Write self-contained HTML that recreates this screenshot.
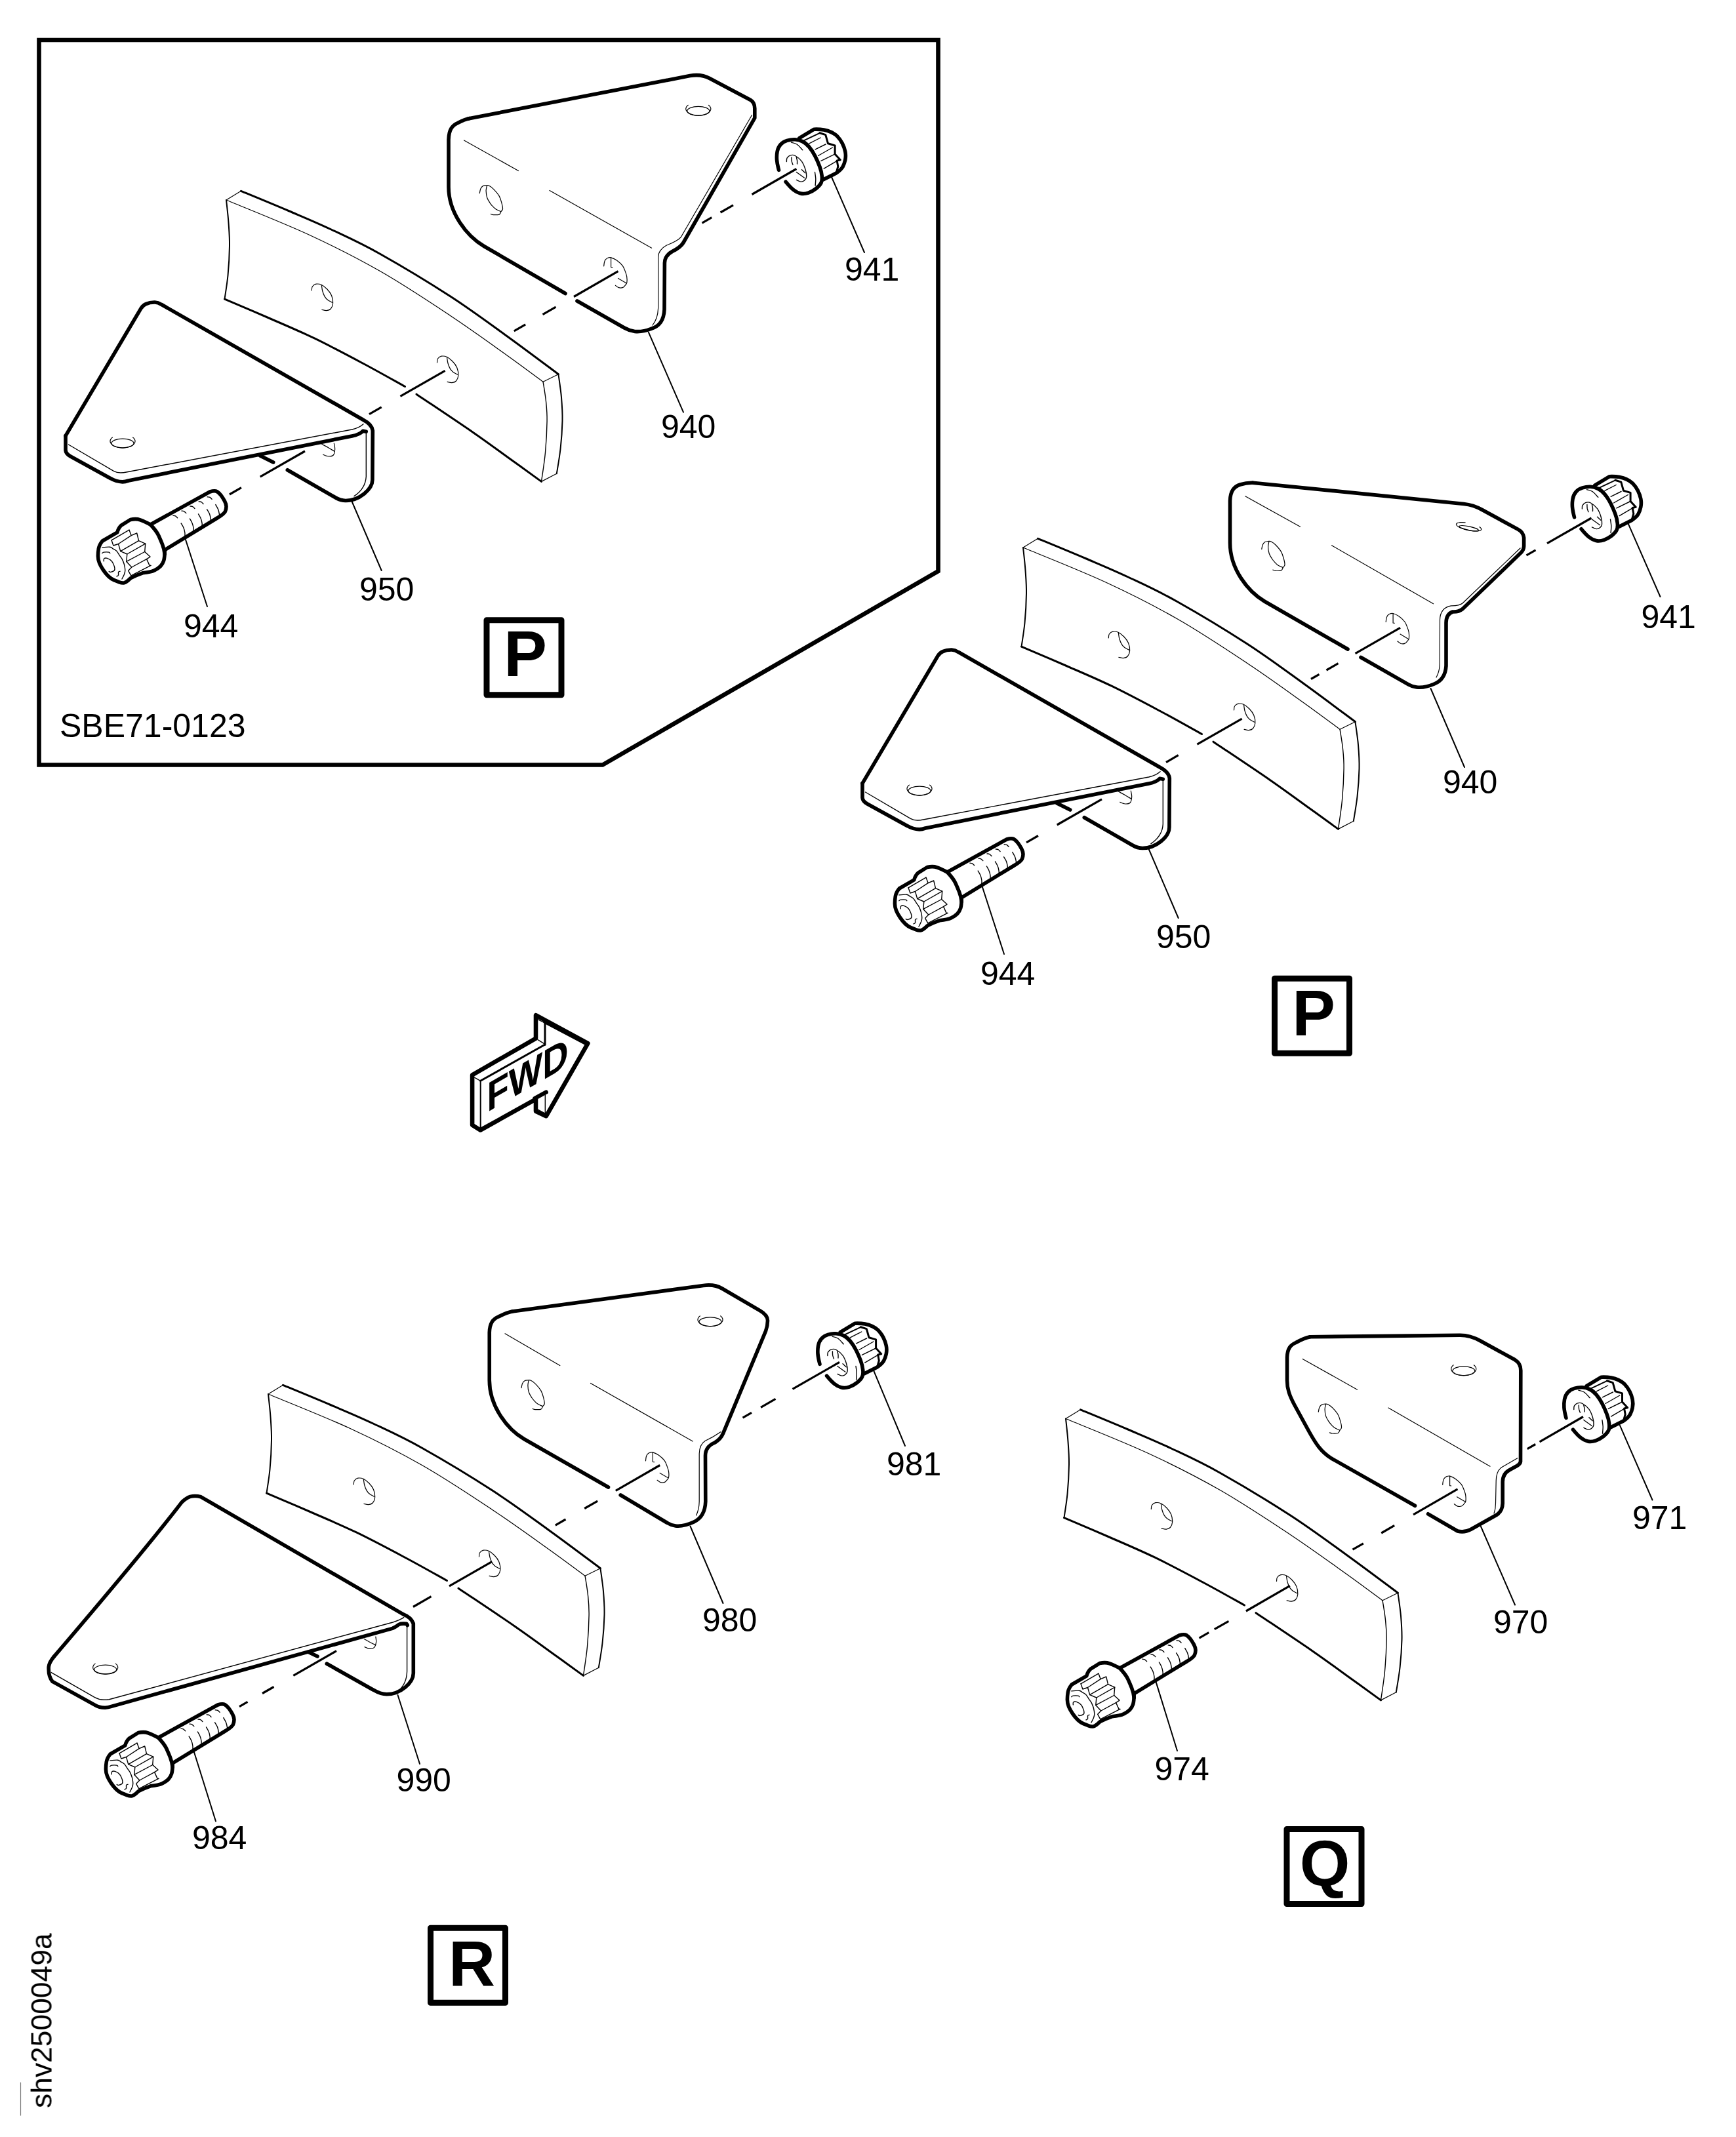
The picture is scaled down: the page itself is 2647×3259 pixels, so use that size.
<!DOCTYPE html>
<html><head><meta charset="utf-8"><title>shv2500049a</title>
<style>
html,body{margin:0;padding:0;background:#fff}
svg{display:block}
svg *{fill:none;stroke:#000;stroke-linecap:round;stroke-linejoin:round}
.k{stroke-width:5.6}
.k2{stroke-width:4.6}
.m{stroke-width:3}
.c{stroke-width:3.2;stroke-linecap:butt}
.l{stroke-width:2}
.t{stroke-width:1.4}
.h{stroke-width:1.2}
.w{fill:#fff;stroke:none}
svg text{fill:#000;stroke:none;font-family:"Liberation Sans",sans-serif}
.n{font-size:50px}
.b{font-size:98.5px;font-weight:bold}
body{position:relative;width:2647px;height:3259px;overflow:hidden}
.vid{position:absolute;left:85.8px;top:3215.3px;font:44.4px/1 "Liberation Sans",sans-serif;color:#000;white-space:nowrap;transform-origin:0 0;transform:rotate(-90deg) translateY(-100%);will-change:transform}
</style></head><body>
<svg width="2647" height="3259" viewBox="0 0 2647 3259">
<defs>
<g id="plate"><path class="m" d="M367.5,291.3C379.6,296.3 417.1,311.7 440,321.5C462.9,331.3 481.7,339 505,350C528.3,361 549.8,370.5 580,387.5C610.2,404.5 654.3,431 686.4,451.8C718.5,472.6 745.3,492.7 772.8,512.5C800.3,532.3 838.3,561 851.4,570.7"/><path class="h" d="M345,305C365.8,313.8 430.8,339.4 470,357.5C509.2,375.6 543.9,393.1 580,413.8C616.1,434.4 654.3,459.9 686.4,481.2C718.5,502.5 749.2,524.9 772.8,541.7C796.4,558.6 818.9,575.5 828.1,582.3"/><path class="l" d="M345,305C345.6,310.8 347.7,328.3 348.5,340C349.3,351.7 350.2,361.7 350,375C349.8,388.3 348.8,406.5 347.5,420C346.2,433.5 343.3,450.2 342.5,456.2"/><path class="m" d="M342.5,456.2C353.8,461 387.1,475 410,485C432.9,495 455.8,504.6 480,516.2C504.2,527.9 532.1,542.8 555,555C577.9,567.2 607.1,583.8 617.5,589.5"/><path class="m" d="M635,601.2C649.3,610.9 696.8,642.5 721,659.2C745.2,675.9 762.6,689 780,701.5C797.4,714 817.9,728.9 825.5,734.4"/><path class="h" d="M345,305 L367.5,291.3"/><path class="h" d="M828.1,582.3 L851.4,570.7"/><path class="h" d="M825.5,734.4 L848.8,722.3"/><path class="t" d="M828.1,582.3C828.8,587.2 831.5,602.1 832.5,612C833.5,621.9 834.3,628.9 834.1,641.9C833.9,654.9 832.9,674.6 831.5,690C830.1,705.4 826.5,727 825.5,734.4"/><path class="l" d="M851.4,570.7C852.2,576.6 855,594.1 856,606C857,617.9 857.8,628.7 857.5,641.9C857.2,655.1 856,671.6 854.5,685C853,698.4 849.8,716.1 848.8,722.3"/><path class="h" d="M666.5,553C666.7,552 666.4,548.6 667.5,547C668.6,545.4 670.7,543.7 673,543.2C675.3,542.8 678.4,543 681.2,544.3C684,545.6 687.4,548.3 690,551C692.6,553.7 695.3,557.1 696.8,560.7C698.3,564.3 699,569.4 698.8,572.8C698.6,576.2 697.1,579.2 695.5,581C693.9,582.8 691.2,583.4 689,583.6C686.8,583.8 683.2,582.5 682.1,582.3"/><path class="h" d="M681.5,545C681.8,546.5 682.2,551.1 683,554C683.8,556.9 685.1,560.1 686.4,562.4C687.7,564.6 689.1,566 691,567.5C692.9,569 696.5,570.5 697.6,571.1"/><path class="h" d="M475.3,443C475.5,442 475.2,438.6 476.3,437C477.4,435.4 479.5,433.7 481.8,433.2C484.1,432.8 487.2,433 490,434.3C492.8,435.6 496.2,438.3 498.8,441C501.4,443.7 504.1,447.1 505.6,450.7C507.1,454.3 507.8,459.4 507.6,462.8C507.4,466.2 505.9,469.2 504.3,471C502.7,472.8 500,473.4 497.8,473.6C495.6,473.8 492.1,472.5 490.9,472.3"/><path class="h" d="M490.3,435C490.6,436.5 491,441.1 491.8,444C492.6,446.9 493.9,450.1 495.2,452.4C496.5,454.6 497.9,456.1 499.8,457.5C501.7,458.9 505.3,460.5 506.4,461.1"/></g>
<g id="bolt"><path class="w" d="M89.4,70L180,20Q187.5,17.5 190.9,19.7Q194.4,21.9 197.2,25.6Q200,29.4 202.5,34.1Q205,38.8 205,42.5Q205,46.2 203.4,50Q201.9,53.8 191.2,60L111.2,108.8Q111.2,120 109.7,125Q108.1,130 104.7,133.4Q101.2,136.9 95.6,139.7Q90,142.5 77.5,143.8Q68.1,146.9 58.8,151.9Q52.5,158.1 49.4,158.8Q46.2,159.4 41.9,157.8Q37.5,156.2 33.8,154.7Q30,153.1 25.6,149.1Q21.2,145 17.5,139.4Q13.8,133.8 11.6,128.8Q9.4,123.8 9.4,118.1Q9.4,112.5 10.3,106.9Q11.2,101.2 16.2,95L38.8,81.9Q40.6,75 45,71.2L58.8,62.5Q67.5,60.6 73.8,62.8Q80,65 89.4,70Z"/><path class="k" d="M89.4,70L180,20Q187.5,17.5 190.9,19.7Q194.4,21.9 197.2,25.6Q200,29.4 202.5,34.1Q205,38.8 205,42.5Q205,46.2 203.4,50Q201.9,53.8 191.2,60L111.2,108.8Q111.2,120 109.7,125Q108.1,130 104.7,133.4Q101.2,136.9 95.6,139.7Q90,142.5 77.5,143.8Q68.1,146.9 58.8,151.9Q52.5,158.1 49.4,158.8Q46.2,159.4 41.9,157.8Q37.5,156.2 33.8,154.7Q30,153.1 25.6,149.1Q21.2,145 17.5,139.4Q13.8,133.8 11.6,128.8Q9.4,123.8 9.4,118.1Q9.4,112.5 10.3,106.9Q11.2,101.2 16.2,95L38.8,81.9Q40.6,75 45,71.2L58.8,62.5Q67.5,60.6 73.8,62.8Q80,65 89.4,70Z"/><path class="k" d="M89.4,70Q98.8,80 101.9,86.9Q105,93.8 107.5,100Q110,106.2 111.2,115"/><path class="t" d="M15.8,104.9C17.7,104.7 24.8,103.9 27.5,104.2C30.2,104.5 30.5,105.7 32.2,106.8C34,107.8 36.2,108.7 38,110.6C39.7,112.5 41.6,116.2 43,118.2C44.4,120.2 45.1,120.5 46.2,122.6C47.2,124.7 48.6,128 49.4,130.8C50.1,133.7 50.8,137.2 50.8,139.7C50.8,142.2 50.2,143.8 49.4,146C48.5,148.3 46.5,151.9 45.9,153"/><path class="t" d="M15.8,113.7C16.2,113.5 16.6,112.4 18.3,112.1C20,111.9 24.3,111.9 25.9,112.1C27.5,112.4 27.5,113.5 27.8,113.7"/><path class="t" d="M18.3,125.8C18.4,125.1 17.8,122.7 18.6,122C19.5,121.2 21.4,120.7 23.4,121.3C25.3,122 28.6,123.8 30.3,125.8C32.1,127.8 33.4,131 34.2,133.4C34.9,135.7 35.4,138.2 34.6,139.7C33.7,141.2 30.5,142.1 29.1,142.4C27.7,142.7 26.7,141.6 26.2,141.5"/><path class="t" d="M43,141.3C42.6,141.5 41,141.4 40.6,142.4C40.2,143.4 40.9,146.2 40.5,147.3C40,148.4 38.4,148.6 38,148.9"/><path class="t" d="M30,93.8L32.9,102L40.5,99.5L43.7,110.6L53.8,115L52.8,126.4L60.8,135L55.7,140.3L59.8,147.9"/><path class="t" d="M57,78.2L60.1,86.6L68.7,83L71.5,94.7L81.7,99.2L80.7,111.5L89,119.1L83.6,122.6L88,132.4L89.9,132.4"/><path class="t" d="M30,93.8L57,78.2"/><path class="t" d="M40.5,99.5L60.1,86.6"/><path class="t" d="M43.7,110.6L71.5,94.7"/><path class="t" d="M53.8,115L81.7,99.2"/><path class="t" d="M52.8,126.4L80.7,111.5"/><path class="t" d="M60.8,135L83.6,122.6"/><path class="t" d="M59.8,147.9L89.9,132.4"/><path class="t" d="M123.8,56.2C124.4,56.4 126.4,56.3 127.5,56.9C128.6,57.5 130.1,59.3 130.6,59.8"/><path class="t" d="M136.2,68.1C136.9,69.3 139.1,72.6 140,75C140.9,77.4 141.6,80.4 141.9,82.5C142.2,84.6 141.9,86.7 141.9,87.5"/><path class="t" d="M136.9,49.1C137.5,49.2 139.5,49.2 140.6,49.8C141.8,50.3 143.2,52.1 143.8,52.6"/><path class="t" d="M149.4,61C150,62.1 152.2,65.5 153.1,67.9C154.1,70.3 154.7,73.3 155,75.4C155.3,77.5 155,79.5 155,80.4"/><path class="t" d="M150,42C150.6,42.1 152.6,42 153.8,42.6C154.9,43.2 156.4,45 156.9,45.5"/><path class="t" d="M162.5,53.9C163.1,55 165.3,58.4 166.2,60.8C167.2,63.1 167.8,66.2 168.1,68.2C168.4,70.3 168.1,72.4 168.1,73.2"/><path class="t" d="M163.1,34.9C163.8,35 165.7,34.9 166.9,35.5C168,36.1 169.5,37.9 170,38.4"/><path class="t" d="M175.6,46.8C176.2,47.9 178.4,51.2 179.4,53.6C180.3,56 180.9,59 181.2,61.1C181.6,63.2 181.2,65.3 181.2,66.1"/><path class="t" d="M176.2,27.8C176.9,27.9 178.9,27.8 180,28.4C181.1,29 182.6,30.8 183.1,31.2"/><path class="t" d="M188.8,39.6C189.4,40.8 191.6,44.1 192.5,46.5C193.4,48.9 194.1,51.9 194.4,54C194.7,56.1 194.4,58.2 194.4,59"/></g>
<g id="nut"><path class="w" d="M37.5,89.4L34,67.5L43.8,46.2L68.1,41.9L91.2,27.2L112.5,29.4L131.2,42.5L140,67.5L132.5,88.8L105.6,103.8L100,113.1L76.2,126.2L55,115.6L37.5,89.4Z"/><path class="k" d="M68.8,40.6L91.2,27.2Q100,26.9 106.2,28.1Q112.5,29.4 117.5,31.6Q122.5,33.8 126.9,38.1Q131.2,42.5 134.4,48.8Q137.5,55 138.8,61.2Q140,67.5 138.8,73.8Q137.5,80 135,84.4Q132.5,88.8 125,94L105.6,103.8"/><path class="k" d="M37.5,89.4Q35,80 34.5,73.8Q34,67.5 35.1,61.2Q36.2,55 40,50.6Q43.8,46.2 50,44.4Q56.2,42.5 62.2,42.8Q68.1,43.1 73.4,45.6Q78.8,48.1 83.8,54.1Q88.8,60 92.8,68.1Q96.9,76.2 99.7,83.8Q102.5,91.2 103.2,98.1Q104,105 102,109.1Q100,113.1 94.4,117.5Q88.8,121.9 82.5,124.1Q76.2,126.2 70.6,125Q65,123.8 60,119.7Q55,115.6 48.1,107.2"/><path class="l" d="M75.6,44.4L100,32.8"/><path class="m" d="M100,32.8L108.8,35.6L112.5,48.8L123.1,51.9L123.1,65L131.2,73.8L126.2,75L127.8,84L125,93.8"/><path class="t" d="M83.8,48.8L101.2,40"/><path class="t" d="M93.1,57.8L109,50"/><path class="t" d="M97.5,67.5L119.4,55"/><path class="t" d="M101.9,75.4L123.1,65"/><path class="t" d="M106.2,87.1L126.2,75.4"/><path class="t" d="M56.5,47.2C57.9,47.7 62.1,48.1 65,50C67.9,51.9 72.3,57.3 73.8,58.8"/><path class="t" d="M92.5,92.5C92.7,94.2 93.6,99.1 93.8,102.5C93.9,105.9 93.2,111.4 93.1,113.1"/><path class="t" d="M49.4,76.5C49.5,75.6 49.1,72.9 50,71.2C50.9,69.6 52.9,67.5 55,66.9C57.1,66.2 59.6,65.9 62.5,67.5C65.4,69.1 69.9,72.7 72.5,76.2C75.1,79.8 76.9,84.8 78.1,88.8C79.3,92.7 79.9,97.2 79.6,100C79.4,102.8 77.9,104.1 76.5,105.2C75.1,106.4 73.3,107.3 71.2,107.1C69.2,107 65.5,104.8 64.4,104.4"/><path class="t" d="M56.9,70C56.9,71 56.9,74.4 57.2,76.2C57.6,78.1 58.7,80.4 59,81.2"/><path class="t" d="M64.4,70C64.6,70.8 65.3,73.3 65.5,75C65.7,76.7 65.5,79.2 65.5,80"/><path class="t" d="M72.5,88.8L77.8,93.8"/><path class="t" d="M64.4,92.5L76.5,101.2"/></g>
<g id="b950"><path class="w" d="M100,664.6L217,467L236.2,461L568.3,653.3L568.3,730L550,755L526.7,761.7L396.7,695L186.8,734.9L100,690L100,664.6Z"/><path class="h" d="M490.7,677.3C492.3,678.2 497.4,680.8 500.7,682.7C503.9,684.5 508.4,687.4 510,688.3"/><path class="h" d="M492.7,693.3C494,693.8 498.1,695.9 500.7,696C503.3,696.1 506.7,695.8 508.3,694C510,692.2 510.5,688 510.7,685C510.8,682 509.6,677.5 509.3,676"/><path class="k" d="M100,664.6L215.2,469.9Q218,465.5 222.5,463.6Q228.5,460.8 236.2,461Q241,461.2 246,464.3L553.3,640Q567.3,647.3 568.3,656.7L567.9,731.8C567.9,746 548,763.5 527,763.5C521,763.5 516,761.5 511.8,759L438.3,716.7"/><path class="k" d="M416.7,705L396.7,695"/><path class="k" d="M100,664.6L100,686.5Q100.3,692 107.5,696L168.8,729.7Q177,734.6 186.8,734.9Q191,734.7 196,733L536.7,665Q548.3,662.7 553.3,657.3L558.3,658.3"/><path class="t" d="M104.5,678L173.3,718.4Q178,721 184,721Q188.5,721 192.8,720L536.7,655Q547.3,652.7 554,646.7"/><path class="t" d="M558.3,658.3L558.3,726.7Q557.3,745 540,756.7"/><path class="h" d="M202.6,667.1C202.8,667.3 203.8,668.1 204.3,668.6C204.8,669.2 205.1,669.8 205.4,670.4C205.7,670.9 205.9,671.5 206,672.1C206,672.7 206,673.4 205.9,674C205.7,674.6 205.5,675.2 205.2,675.7C204.8,676.3 204.4,676.9 203.9,677.4C203.3,678 202.7,678.5 202,678.9C201.3,679.4 200.5,679.9 199.6,680.3C198.8,680.7 197.8,681 196.9,681.3C195.9,681.7 194.8,681.9 193.8,682.1C192.7,682.4 191.6,682.5 190.4,682.6C189.3,682.7 188.1,682.8 187,682.8C185.9,682.8 184.7,682.7 183.6,682.6C182.4,682.5 181.3,682.4 180.2,682.1C179.2,681.9 178.1,681.7 177.1,681.3C176.2,681 175.2,680.7 174.4,680.3C173.5,679.9 172.7,679.4 172,678.9C171.3,678.5 170.7,678 170.1,677.4C169.6,676.9 169.2,676.3 168.8,675.7C168.5,675.2 168.3,674.6 168.1,674C168,673.4 168,672.7 168,672.1C168.1,671.5 168.3,670.9 168.6,670.4C168.9,669.8 169.2,669.2 169.7,668.6C170.2,668.1 171.2,667.3 171.4,667.1"/><ellipse class="h" cx="187" cy="676.1" rx="17" ry="7"/></g>
</defs>
<g id="insetP">
<use href="#plate"/>
<path class="w" d="M714,181L1052,115.6Q1068.6,112.4 1082,119.5L1143.9,152.2Q1151,156.5 1150.8,166L1150.8,179.9L1042,370Q1038,377 1025,383.5Q1013.4,390 1013.4,401L1013,472Q1012,496 992.5,501.5Q980,506.5 968,505.5Q960,504.5 952,500L880,459L732,372L684,290L684,210L714,181Z"/><path class="k" d="M714,181L1052,115.6Q1068.6,112.4 1082,119.5L1143.9,152.2Q1151,156.5 1150.8,166L1150.8,179.9L1042,370Q1038,377 1025,383.5Q1013.4,390 1013.4,401L1013,472Q1012,496 992.5,501.5Q980,506.5 968,505.5Q960,504.5 952,500L880,459"/><path class="k" d="M862,447.5 L738,375.5 C712,360 684,325 684,285 L684,213 C684.5,197 690,191 698,187.5 C705,184 709,182 716,180.6"/><path class="h" d="M1146.5,175.5L1038.5,361.3Q1034,367 1016,374.3Q1004,381 1003.6,392L1003.6,470Q1003,486 995,496"/><path class="h" d="M707.5,214 L790.5,260.5"/><path class="h" d="M838,290.5 L993.6,378.2"/><path class="h" d="M1080.4,160.3C1080.6,160.5 1081.6,161.3 1082.1,161.8C1082.6,162.4 1082.9,163 1083.2,163.6C1083.5,164.1 1083.7,164.7 1083.8,165.3C1083.8,165.9 1083.8,166.6 1083.7,167.2C1083.5,167.8 1083.3,168.4 1083,168.9C1082.6,169.5 1082.2,170.1 1081.7,170.6C1081.1,171.2 1080.5,171.7 1079.8,172.1C1079.1,172.6 1078.3,173.1 1077.4,173.5C1076.6,173.9 1075.6,174.2 1074.7,174.5C1073.7,174.9 1072.6,175.1 1071.6,175.3C1070.5,175.6 1069.4,175.7 1068.2,175.8C1067.1,175.9 1065.9,176 1064.8,176C1063.7,176 1062.5,175.9 1061.4,175.8C1060.2,175.7 1059.1,175.6 1058,175.3C1057,175.1 1055.9,174.9 1054.9,174.5C1054,174.2 1053,173.9 1052.2,173.5C1051.3,173.1 1050.5,172.6 1049.8,172.1C1049.1,171.7 1048.5,171.2 1047.9,170.6C1047.4,170.1 1047,169.5 1046.6,168.9C1046.3,168.4 1046.1,167.8 1045.9,167.2C1045.8,166.6 1045.8,165.9 1045.8,165.3C1045.9,164.7 1046.1,164.1 1046.4,163.6C1046.7,163 1047,162.4 1047.5,161.8C1048,161.3 1049,160.5 1049.2,160.3"/><ellipse class="h" cx="1064.8" cy="169.3" rx="17" ry="7"/><path class="h" d="M731.3,294.7C731.5,293.6 732,289.8 732.8,288C733.6,286.2 734.8,284.7 736.2,283.8C737.6,282.9 739.4,282.9 741,282.8C742.6,282.7 743.8,282.3 745.8,283.3C747.8,284.3 750.5,286.2 753,288.8C755.5,291.4 759.1,295.4 761.1,298.9C763.1,302.4 764.1,306.5 765,309.8C765.9,313.1 766.7,316.5 766.5,318.6C766.3,320.8 764.8,321.3 763.9,322.7C763,324.1 763,326.3 761.1,327.1C759.2,327.9 754.6,327.7 752.5,327.6C750.4,327.5 749.1,326.6 748.4,326.4"/><path class="h" d="M742.4,283.3C742.2,284.6 741,288.1 741.1,291.1C741.2,294.1 741.7,298.4 742.7,301.5C743.7,304.6 745.9,307.7 747.3,309.8C748.7,311.9 749.5,312.8 751,314.4C752.5,315.9 754,317.7 756.1,319.1C758.2,320.5 762.6,322.1 763.9,322.7"/><path class="h" d="M920.7,405.8C920.8,404.8 921.1,401.6 921.5,400C921.9,398.4 922.4,397 923.3,395.9C924.2,394.8 925.6,393.7 927,393.2C928.4,392.7 929.4,392.2 931.6,392.8C933.8,393.4 937.5,394.9 940.4,397C943.3,399.1 947,402.3 949.2,405.2C951.4,408.1 952.3,411.3 953.4,414.1C954.5,416.9 955.3,419 955.7,421.8C956.1,424.6 956.2,428.6 955.9,430.7C955.6,432.8 954.9,433 953.9,434.3C952.9,435.6 951.5,437.7 949.8,438.4C948.1,439.1 945.4,439.2 943.5,438.7C941.6,438.2 939.2,435.9 938.4,435.3"/><path class="h" d="M931.6,392.8L931.6,407.3L933.7,407.6"/><path class="h" d="M942.5,424.4L954.9,431.7"/>
<use href="#b950"/>
<use href="#nut" transform="translate(1150,170)"/>
<use href="#bolt" transform="translate(140,730)"/>
<path class="c" d="M1146.5,296.5 L1214.4,257.5"/><path class="c" d="M1098.6,324 L1118,312.9"/><path class="c" d="M1070.5,340.2 L1085.2,331.7"/><path class="c" d="M875,452.5 L942.5,413.7"/><path class="c" d="M827.5,479.7 L847.5,468.2"/><path class="c" d="M783.8,504.9 L801.2,494.8"/><path class="c" d="M610.4,604.4 L678.6,565.3"/><path class="c" d="M563,631.7 L581.7,620.9"/><path class="c" d="M396.7,727.2 L465,688"/><path class="c" d="M350,754 L368,743.7"/>
<path class="l" d="M1268,270 L1318,385"/>
<path class="l" d="M989,507 L1042,628.6"/>
<path class="l" d="M536.7,765 L581.7,870"/>
<path class="l" d="M283,823 L316,925"/>
</g>
<g id="mainP">
<use href="#plate" transform="translate(1215,530)"/>
<use href="#b950" transform="translate(1215,530)"/>
<use href="#bolt" transform="translate(1355,1260)"/>
<path class="w" d="M1910,736.2L2232,768.5Q2246.3,769.9 2260,777.5L2314.8,807.4Q2322.5,811.5 2323.6,820L2323.6,833Q2323.4,838 2320,842L2230,928.8Q2224,933.5 2215,933Q2205,936.5 2205,950L2205,1015Q2204,1036 2187,1043Q2172,1049.5 2160,1048Q2153,1047 2147.5,1043.8L2075,1002.5L1922.5,913.8L1880,860L1875.5,762.5L1885,742L1910,736.2Z"/><path class="k" d="M1910,736.2L2232,768.5Q2246.3,769.9 2260,777.5L2314.8,807.4Q2322.5,811.5 2323.6,820L2323.6,833Q2323.4,838 2320,842L2230,928.8Q2224,933.5 2215,933Q2205,936.5 2205,950L2205,1015Q2204,1036 2187,1043Q2172,1049.5 2160,1048Q2153,1047 2147.5,1043.8L2075,1002.5"/><path class="k" d="M2055,990 L1928,917 C1903,902 1875.5,868 1875.5,828 L1875.5,764 C1876,748 1882,742 1891,739 C1898,736.8 1903,736 1910,736.25"/><path class="h" d="M2318,836L2230,920Q2225,924 2212.5,923.8Q2196,927 2195.5,945L2195.3,1012Q2195,1024 2190,1033"/><path class="h" d="M1898.8,756.8 L1982.5,803.2"/><path class="h" d="M2030.5,831.8 L2185.5,920.8"/><g transform="translate(2239.6,803.3) rotate(12)"><path class="h" d="M16,-3.1C16.3,-2.9 17.4,-2.5 17.9,-2.1C18.5,-1.8 18.9,-1.4 19.1,-1.1C19.4,-0.7 19.5,-0.3 19.5,0.1C19.5,0.4 19.3,0.8 19,1.2C18.7,1.5 18.3,1.9 17.8,2.2C17.2,2.6 16.5,2.9 15.7,3.2C14.9,3.5 14,3.8 13,4C12,4.3 10.9,4.5 9.8,4.7C8.6,4.9 7.3,5 6.1,5.1C4.8,5.2 3.5,5.3 2.1,5.4C0.8,5.4 -0.6,5.4 -1.9,5.4C-3.2,5.3 -4.6,5.3 -5.9,5.2C-7.1,5 -8.4,4.9 -9.6,4.7C-10.7,4.5 -11.9,4.3 -12.9,4.1C-13.9,3.8 -14.8,3.5 -15.6,3.2C-16.4,2.9 -17.1,2.6 -17.7,2.3C-18.2,1.9 -18.7,1.6 -19,1.2C-19.3,0.9 -19.5,0.5 -19.5,0.1C-19.5,-0.3 -19.4,-0.6 -19.2,-1C-18.9,-1.4 -18.5,-1.7 -18,-2.1C-17.5,-2.4 -16.8,-2.7 -16.1,-3C-15.3,-3.4 -14.5,-3.6 -13.5,-3.9C-12.5,-4.2 -11.4,-4.4 -10.3,-4.6C-9.2,-4.8 -7.3,-5 -6.7,-5.1"/><ellipse class="h" cx="0.5" cy="2.3" rx="15" ry="2.8"/></g><path class="h" d="M1923.8,837.5C1924,836.3 1924.5,832.6 1925.3,830.8C1926.1,828.9 1927.3,827.4 1928.7,826.5C1930.1,825.7 1931.9,825.6 1933.5,825.5C1935.1,825.5 1936.3,825 1938.3,826C1940.3,827 1943,828.9 1945.5,831.5C1948,834.1 1951.6,838.1 1953.6,841.6C1955.6,845.1 1956.6,849.3 1957.5,852.5C1958.4,855.8 1959.2,859.2 1959,861.4C1958.8,863.5 1957.3,864 1956.4,865.5C1955.5,866.9 1955.5,869 1953.6,869.9C1951.7,870.7 1947.1,870.5 1945,870.4C1942.9,870.2 1941.6,869.4 1940.9,869.1"/><path class="h" d="M1934.9,826C1934.7,827.3 1933.5,830.8 1933.6,833.9C1933.6,836.9 1934.2,841.1 1935.2,844.2C1936.2,847.4 1938.4,850.4 1939.8,852.5C1941.2,854.7 1942,855.6 1943.5,857.1C1945,858.7 1946.4,860.5 1948.6,861.9C1950.8,863.2 1955.1,864.9 1956.4,865.5"/><path class="h" d="M2113.2,948.5C2113.3,947.6 2113.6,944.4 2114,942.8C2114.4,941.1 2114.9,939.8 2115.8,938.6C2116.7,937.5 2118.1,936.5 2119.5,936C2120.9,935.4 2121.9,934.9 2124.1,935.5C2126.3,936.2 2130,937.7 2132.9,939.8C2135.8,941.8 2139.5,945.1 2141.7,948C2143.9,950.8 2144.8,954.1 2145.9,956.9C2147,959.6 2147.8,961.8 2148.2,964.5C2148.6,967.3 2148.7,971.4 2148.4,973.5C2148.1,975.5 2147.4,975.8 2146.4,977C2145.4,978.3 2144,980.4 2142.3,981.1C2140.6,981.9 2137.9,982 2136,981.5C2134.1,980.9 2131.8,978.6 2130.9,978"/><path class="h" d="M2124.1,935.5L2124.1,950L2126.2,950.4"/><path class="h" d="M2135,967.1L2147.4,974.5"/>
<use href="#nut" transform="translate(2363,699.5)"/>
<path class="c" d="M2359,828.7 L2426.5,790"/><path class="c" d="M2327.5,846.8 L2341.5,838.8"/><path class="c" d="M2066.5,996.7 L2135,957.4"/><path class="c" d="M2022.5,1022 L2040.5,1011.7"/><path class="c" d="M1999,1035.5 L2011.5,1028.3"/><path class="c" d="M1825.4,1135.2 L1893.6,1096.1"/><path class="c" d="M1778,1162.5 L1796.7,1151.7"/><path class="c" d="M1611.7,1258 L1680,1218.8"/><path class="c" d="M1565,1284.8 L1583,1274.5"/>
<path class="l" d="M2483,799.4 L2531.5,910"/>
<path class="l" d="M2181.5,1050 L2233,1170"/>
<path class="l" d="M1751.7,1295 L1796.7,1400"/>
<path class="l" d="M1498,1353 L1531,1455"/>
</g>
<g id="asmR">
<use href="#plate" transform="translate(64,1821)"/>
<path class="w" d="M781.2,2000L1072.5,1960.5Q1089.2,1958.2 1101,1965L1159,1998.8Q1170.5,2005.5 1170.5,2014Q1170.5,2022 1167.5,2030L1102.5,2186.2Q1099,2194.5 1090,2200Q1075.5,2206 1075.5,2220L1075.8,2290Q1075,2313 1058,2321Q1042,2328.5 1030,2327Q1023,2326 1017.5,2322.5L946.2,2280L792.5,2191.2L751,2140L746.2,2030L756,2006L781.2,2000Z"/><path class="k" d="M781.2,2000L1072.5,1960.5Q1089.2,1958.2 1101,1965L1159,1998.8Q1170.5,2005.5 1170.5,2014Q1170.5,2022 1167.5,2030L1102.5,2186.2Q1099,2194.5 1090,2200Q1075.5,2206 1075.5,2220L1075.8,2290Q1075,2313 1058,2321Q1042,2328.5 1030,2327Q1023,2326 1017.5,2322.5L946.2,2280"/><path class="k" d="M927.5,2268 L799,2194.5 C774,2180 746.25,2145 746.25,2105 L746.25,2032 C746.8,2017 752,2011.5 760,2008 C768,2004 773,2001.5 781.25,2000"/><path class="h" d="M1098.8,2183.8Q1088,2191.5 1075,2197.5Q1066.5,2203 1066.2,2217L1066.2,2290Q1066,2302 1061.5,2311"/><path class="h" d="M770,2033.8 L853.8,2082.5"/><path class="h" d="M900.5,2109.5 L1056.2,2198"/><path class="h" d="M1098.6,2006.8C1098.8,2007 1099.8,2007.8 1100.3,2008.3C1100.8,2008.9 1101.1,2009.5 1101.4,2010.1C1101.7,2010.6 1101.9,2011.2 1102,2011.8C1102,2012.4 1102,2013.1 1101.9,2013.7C1101.7,2014.3 1101.5,2014.9 1101.2,2015.4C1100.8,2016 1100.4,2016.6 1099.9,2017.1C1099.3,2017.7 1098.7,2018.2 1098,2018.6C1097.3,2019.1 1096.5,2019.6 1095.6,2020C1094.8,2020.4 1093.8,2020.7 1092.9,2021C1091.9,2021.4 1090.8,2021.6 1089.8,2021.8C1088.7,2022.1 1087.6,2022.2 1086.4,2022.3C1085.3,2022.4 1084.1,2022.5 1083,2022.5C1081.9,2022.5 1080.7,2022.4 1079.6,2022.3C1078.4,2022.2 1077.3,2022.1 1076.2,2021.8C1075.2,2021.6 1074.1,2021.4 1073.1,2021C1072.2,2020.7 1071.2,2020.4 1070.4,2020C1069.5,2019.6 1068.7,2019.1 1068,2018.6C1067.3,2018.2 1066.7,2017.7 1066.1,2017.1C1065.6,2016.6 1065.2,2016 1064.8,2015.4C1064.5,2014.9 1064.3,2014.3 1064.1,2013.7C1064,2013.1 1064,2012.4 1064,2011.8C1064.1,2011.2 1064.3,2010.6 1064.6,2010.1C1064.9,2009.5 1065.2,2008.9 1065.7,2008.3C1066.2,2007.8 1067.2,2007 1067.4,2006.8"/><ellipse class="h" cx="1083" cy="2015.8" rx="17" ry="7"/><path class="h" d="M795,2116.7C795.3,2115.6 795.7,2111.8 796.5,2110C797.4,2108.2 798.6,2106.7 800,2105.8C801.3,2104.9 803.1,2104.9 804.8,2104.8C806.4,2104.7 807.5,2104.3 809.5,2105.3C811.5,2106.3 814.2,2108.2 816.8,2110.8C819.3,2113.4 822.9,2117.4 824.9,2120.9C826.9,2124.4 827.9,2128.5 828.8,2131.8C829.6,2135.1 830.4,2138.4 830.2,2140.6C830.1,2142.8 828.5,2143.3 827.6,2144.7C826.8,2146.1 826.8,2148.3 824.9,2149.1C823,2149.9 818.4,2149.7 816.2,2149.6C814.1,2149.5 812.8,2148.6 812.1,2148.4"/><path class="h" d="M806.1,2105.3C805.9,2106.6 804.8,2110.1 804.9,2113.1C804.9,2116.1 805.4,2120.4 806.5,2123.5C807.5,2126.6 809.7,2129.7 811,2131.8C812.4,2134 813.3,2134.9 814.8,2136.4C816.2,2137.9 817.7,2139.7 819.9,2141.1C822,2142.5 826.4,2144.1 827.6,2144.7"/><path class="h" d="M984.5,2227.8C984.6,2226.8 984.8,2223.7 985.2,2222C985.7,2220.3 986.1,2219 987,2217.9C988,2216.8 989.4,2215.7 990.8,2215.2C992.1,2214.7 993.1,2214.2 995.4,2214.8C997.6,2215.4 1001.2,2216.9 1004.1,2219C1007.1,2221.1 1010.8,2224.3 1013,2227.2C1015.1,2230 1016.1,2233.3 1017.1,2236.1C1018.2,2238.9 1019,2241 1019.5,2243.8C1019.9,2246.6 1020,2250.6 1019.6,2252.7C1019.3,2254.8 1018.7,2255 1017.6,2256.3C1016.6,2257.6 1015.3,2259.7 1013.5,2260.4C1011.8,2261.1 1009.1,2261.2 1007.2,2260.7C1005.4,2260.2 1003,2257.9 1002.1,2257.3"/><path class="h" d="M995.4,2214.8L995.4,2229.3L997.5,2229.6"/><path class="h" d="M1006.2,2246.4L1018.6,2253.7"/>
<path class="w" d="M297.4,2281.8L632.2,2474.3L632.2,2551.6L612.2,2581.5L591.1,2585L469.9,2520L162.4,2606.1L73.9,2556.9L72.8,2544.6L297.4,2281.8Z"/><path class="h" d="M555.3,2499.6C556.7,2500.4 560.8,2502.7 563.7,2504.2C566.6,2505.7 571.3,2508 572.9,2508.8"/><path class="h" d="M556,2511.6C557.3,2512.1 561.3,2514.3 563.7,2514.4C566.2,2514.5 569.1,2514 570.7,2512.3C572.4,2510.6 573.2,2506.9 573.6,2504.2C573.9,2501.5 573,2497.5 572.9,2496.1"/><path class="k" d="M82.3,2526.4Q224.3,2360 277,2291.1Q283.5,2284.5 290,2282.4Q297.6,2280.3 306.4,2282.8L614.9,2461.8Q627,2466.5 630.3,2476L630.3,2551.8C630.3,2566 611,2583.8 589.6,2583.8C583,2583.8 574,2580 569.3,2577.2L498.3,2537.2"/><path class="k" d="M484,2526L469.9,2519.3"/><path class="k" d="M82.3,2526.4Q73.5,2537 74.2,2545Q74,2557 80,2564.4L144.5,2600.1Q152,2604.5 160.6,2604.2Q165,2604 169.8,2602.4L598.4,2483.4Q604,2481 608.6,2477.2Q612,2475.6 620,2476.4L621.2,2478.5"/><path class="t" d="M78.2,2550.6L144.5,2588.6Q151,2592.2 158,2592.3Q162,2592.4 166.4,2591.8L598.2,2474.3Q609.4,2470.8 615.7,2466.6"/><path class="t" d="M620.6,2479.6L620.6,2549Q620,2568 607.5,2578.5"/><path class="h" d="M176.3,2537.2C176.5,2537.4 177.5,2538.2 178,2538.7C178.5,2539.3 178.8,2539.9 179.1,2540.5C179.4,2541 179.6,2541.6 179.7,2542.2C179.7,2542.8 179.7,2543.5 179.6,2544.1C179.4,2544.7 179.2,2545.3 178.9,2545.8C178.5,2546.4 178.1,2547 177.6,2547.5C177,2548.1 176.4,2548.6 175.7,2549C175,2549.5 174.2,2550 173.3,2550.4C172.5,2550.8 171.5,2551.1 170.6,2551.4C169.6,2551.8 168.5,2552 167.5,2552.2C166.4,2552.5 165.3,2552.6 164.1,2552.7C163,2552.8 161.8,2552.9 160.7,2552.9C159.6,2552.9 158.4,2552.8 157.3,2552.7C156.1,2552.6 155,2552.5 153.9,2552.2C152.9,2552 151.8,2551.8 150.8,2551.4C149.9,2551.1 148.9,2550.8 148.1,2550.4C147.2,2550 146.4,2549.5 145.7,2549C145,2548.6 144.4,2548.1 143.8,2547.5C143.3,2547 142.9,2546.4 142.5,2545.8C142.2,2545.3 142,2544.7 141.8,2544.1C141.7,2543.5 141.7,2542.8 141.7,2542.2C141.8,2541.6 142,2541 142.3,2540.5C142.6,2539.9 142.9,2539.3 143.4,2538.7C143.9,2538.2 144.9,2537.4 145.1,2537.2"/><ellipse class="h" cx="160.7" cy="2546.2" rx="17" ry="7"/>
<use href="#nut" transform="translate(1212.5,1991)"/>
<use href="#bolt" transform="translate(152,2580)"/>
<path class="c" d="M1208.5,2118.4 L1280,2077.4"/><path class="c" d="M1160,2146.3 L1182.5,2133.4"/><path class="c" d="M1132.5,2162.1 L1146,2154.3"/><path class="c" d="M938.8,2273.3 L1006.2,2234.5"/><path class="c" d="M891.2,2300.5 L911.2,2289.1"/><path class="c" d="M846.8,2326.1 L862.5,2317"/><path class="c" d="M685,2418.9 L750,2381.6"/><path class="c" d="M630,2450.5 L657.5,2434.7"/><path class="c" d="M447.3,2555.4 L513,2517.7"/><path class="c" d="M400,2582.5 L417.5,2572.5"/><path class="c" d="M365,2602.6 L377.5,2595.4"/>
<path class="l" d="M1332,2089.8 L1380,2205"/>
<path class="l" d="M1052.5,2327.5 L1102.5,2445"/>
<path class="l" d="M606.5,2585 L640,2690"/>
<path class="l" d="M295.8,2671.5 L329,2777.5"/>
</g>
<g id="asmQ">
<use href="#plate" transform="translate(1280,1858.5)"/>
<path class="w" d="M1997.5,2038.8L2226,2036.3Q2241.5,2036.2 2257.5,2045L2310,2073.8Q2318.8,2079 2318.8,2090L2318.5,2229Q2318,2232.5 2313,2235.5L2302.5,2241.2Q2291.2,2247 2291.2,2260L2291.2,2292.5Q2291,2304 2282.5,2310L2242.5,2332.5Q2233,2337.5 2222.5,2335L2177.5,2308.8L2025,2221.2L1972.5,2140L1962.5,2070L1972,2046L1997.5,2038.8Z"/><path class="k" d="M1997.5,2038.8L2226,2036.3Q2241.5,2036.2 2257.5,2045L2310,2073.8Q2318.8,2079 2318.8,2090L2318.5,2229Q2318,2232.5 2313,2235.5L2302.5,2241.2Q2291.2,2247 2291.2,2260L2291.2,2292.5Q2291,2304 2282.5,2310L2242.5,2332.5Q2233,2337.5 2222.5,2335L2177.5,2308.8"/><path class="k" d="M2157.5,2296.25 L2030,2224 C2014,2214 2006,2201 1997,2185 L1974,2143 C1966,2128 1962.5,2118 1962.5,2105 L1962.5,2070 C1963,2056 1968,2051 1976,2047.5 C1984,2043 1989,2040.5 1997.5,2038.75"/><path class="h" d="M2313.8,2223.8L2290,2237.5Q2281.5,2243 2281.2,2258L2280.5,2292.5Q2280.5,2301 2278,2308"/><path class="h" d="M1986.2,2072.5 L2069.5,2119.2"/><path class="h" d="M2117,2147 L2272,2236.2"/><path class="h" d="M2247.3,2081.8C2247.6,2082 2248.6,2082.8 2249,2083.3C2249.5,2083.9 2249.9,2084.5 2250.2,2085.1C2250.5,2085.6 2250.6,2086.2 2250.7,2086.8C2250.8,2087.4 2250.8,2088.1 2250.6,2088.7C2250.5,2089.3 2250.2,2089.9 2249.9,2090.4C2249.6,2091 2249.1,2091.6 2248.6,2092.1C2248.1,2092.7 2247.4,2093.2 2246.7,2093.6C2246,2094.1 2245.2,2094.6 2244.4,2095C2243.5,2095.4 2242.6,2095.7 2241.6,2096C2240.6,2096.4 2239.6,2096.6 2238.5,2096.8C2237.4,2097.1 2236.3,2097.2 2235.2,2097.3C2234.1,2097.4 2232.9,2097.5 2231.8,2097.5C2230.6,2097.5 2229.4,2097.4 2228.3,2097.3C2227.2,2097.2 2226.1,2097.1 2225,2096.8C2223.9,2096.6 2222.9,2096.4 2221.9,2096C2220.9,2095.7 2220,2095.4 2219.1,2095C2218.3,2094.6 2217.5,2094.1 2216.8,2093.6C2216.1,2093.2 2215.4,2092.7 2214.9,2092.1C2214.4,2091.6 2213.9,2091 2213.6,2090.4C2213.3,2089.9 2213,2089.3 2212.9,2088.7C2212.7,2088.1 2212.7,2087.4 2212.8,2086.8C2212.9,2086.2 2213,2085.6 2213.3,2085.1C2213.6,2084.5 2214,2083.9 2214.5,2083.3C2214.9,2082.8 2215.9,2082 2216.2,2081.8"/><ellipse class="h" cx="2231.8" cy="2090.8" rx="17" ry="7"/><path class="h" d="M2010.3,2153.1C2010.5,2152 2011,2148.2 2011.8,2146.4C2012.6,2144.6 2013.8,2143.1 2015.2,2142.2C2016.6,2141.3 2018.4,2141.3 2020,2141.2C2021.6,2141.1 2022.8,2140.7 2024.8,2141.7C2026.8,2142.7 2029.5,2144.6 2032,2147.2C2034.5,2149.8 2038.1,2153.8 2040.1,2157.3C2042.1,2160.8 2043.1,2164.9 2044,2168.2C2044.9,2171.5 2045.7,2174.8 2045.5,2177C2045.3,2179.2 2043.8,2179.7 2042.9,2181.1C2042,2182.5 2042,2184.7 2040.1,2185.5C2038.2,2186.3 2033.6,2186.1 2031.5,2186C2029.4,2185.9 2028.1,2185 2027.4,2184.8"/><path class="h" d="M2021.4,2141.7C2021.2,2143 2020,2146.5 2020.1,2149.5C2020.1,2152.5 2020.7,2156.8 2021.7,2159.9C2022.7,2163 2024.9,2166.1 2026.3,2168.2C2027.7,2170.4 2028.5,2171.2 2030,2172.8C2031.5,2174.4 2032.9,2176.1 2035.1,2177.5C2037.2,2178.9 2041.6,2180.5 2042.9,2181.1"/><path class="h" d="M2199.7,2264.2C2199.8,2263.2 2200.1,2260.1 2200.5,2258.4C2200.9,2256.8 2201.4,2255.4 2202.3,2254.3C2203.2,2253.2 2204.6,2252.1 2206,2251.6C2207.4,2251.1 2208.4,2250.6 2210.6,2251.2C2212.8,2251.8 2216.5,2253.3 2219.4,2255.4C2222.3,2257.5 2226,2260.8 2228.2,2263.6C2230.4,2266.4 2231.3,2269.7 2232.4,2272.5C2233.5,2275.3 2234.3,2277.4 2234.7,2280.2C2235.1,2283 2235.2,2287 2234.9,2289.1C2234.6,2291.2 2233.9,2291.4 2232.9,2292.7C2231.9,2294 2230.5,2296.1 2228.8,2296.8C2227.1,2297.5 2224.4,2297.6 2222.5,2297.1C2220.6,2296.6 2218.2,2294.3 2217.4,2293.7"/><path class="h" d="M2210.6,2251.2L2210.6,2265.7L2212.7,2266"/><path class="h" d="M2221.5,2282.8L2233.9,2290.1"/>
<use href="#nut" transform="translate(2350.4,2073)"/>
<use href="#bolt" transform="translate(1618,2474)"/>
<path class="c" d="M2347.5,2198.9 L2414,2160.5"/><path class="c" d="M2328.8,2209.7 L2341.2,2202.5"/><path class="c" d="M2155,2309.9 L2222.5,2270.9"/><path class="c" d="M2106.2,2338 L2126.2,2326.4"/><path class="c" d="M2062.5,2363.2 L2078.8,2353.8"/><path class="c" d="M1899.9,2457 L1966.8,2418.4"/><path class="c" d="M1851.8,2484.7 L1873.4,2472.3"/><path class="c" d="M1828.5,2498.2 L1843.2,2489.7"/>
<path class="l" d="M2470,2173.8 L2519.5,2287.5"/>
<path class="l" d="M2258,2328 L2310,2447.5"/>
<path class="l" d="M1762.4,2564.4 L1795,2670"/>
</g>
<path d="M59.5,61 L1430.5,61 L1430.5,871 L918.8,1166.5 L59.5,1166.5 Z" style="stroke-width:6.6;stroke-linejoin:miter"/>
<rect x="742" y="945.7" width="114" height="114" style="stroke-width:9"/><text class="b" x="801" y="1031.2" text-anchor="middle">P</text>
<rect x="1943.5" y="1492.3" width="114" height="114" style="stroke-width:9"/><text class="b" x="2003" y="1579" text-anchor="middle">P</text>
<rect x="1962" y="2789.5" width="114" height="114" style="stroke-width:9"/><text class="b" x="2020" y="2876" text-anchor="middle">Q</text>
<rect x="656.5" y="2940.3" width="114" height="114" style="stroke-width:9"/><text class="b" x="719.5" y="3028.8" text-anchor="middle">R</text>
<text class="n" x="1288" y="428">941</text>
<text class="n" x="1008" y="668">940</text>
<text class="n" x="280" y="972">944</text>
<text class="n" x="548" y="916">950</text>
<text class="n" x="91" y="1124">SBE71-0123</text>
<path d="M31.5,3176 L31.5,3226" style="stroke-width:1.2;stroke:#777"/>
<text class="n" x="2502.5" y="957.5">941</text>
<text class="n" x="2200" y="1210">940</text>
<text class="n" x="1495" y="1502">944</text>
<text class="n" x="1763" y="1446">950</text>
<text class="n" x="1352" y="2250">981</text>
<text class="n" x="1071" y="2488">980</text>
<text class="n" x="604.5" y="2732">990</text>
<text class="n" x="293" y="2820">984</text>
<text class="n" x="2489" y="2332">971</text>
<text class="n" x="2277" y="2490.5">970</text>
<text class="n" x="1760.5" y="2715">974</text>
<g id="fwd"><path class="w" d="M720.1,1639.3L720.1,1715.7L732.4,1723.5L817,1676.4L817,1694.7L832.8,1702.2L896.4,1591.1L817,1548.2L817,1583.6L720.1,1639.3Z"/><path d="M720.1,1639.3L720.1,1715.7L732.4,1723.5L817,1676.4L817,1694.7L832.8,1702.2L896.4,1591.1L817,1548.2L817,1583.6L720.1,1639.3Z" style="stroke-width:6.6;stroke-linejoin:round"/><path d="M830.7,1558.7L892.7,1591.4" style="stroke-width:4.6"/><path d="M815.5,1674.9L832.8,1665.6" style="stroke-width:6.2"/><path class="l" d="M732.7,1648.3L732.7,1721.7"/><path class="t" d="M723.7,1643.3L732.7,1648.3"/><path class="m" d="M732.7,1648.3L830.5,1593.2"/><path class="t" d="M820,1585.7L830.5,1592.1"/><path class="m" d="M831,1559.9L831,1593.2"/><path class="t" d="M820,1554.7L831,1560.2"/><path class="t" d="M831.3,1666.5L831.3,1698"/><path class="t" d="M820,1692L831.3,1698"/><text transform="matrix(0.866,-0.5,0,1,742.5,1696.5)" style="font-size:63px;font-weight:bold" x="0" y="0">FWD</text></g>
</svg>
<div class="vid">shv2500049a</div>
</body></html>
